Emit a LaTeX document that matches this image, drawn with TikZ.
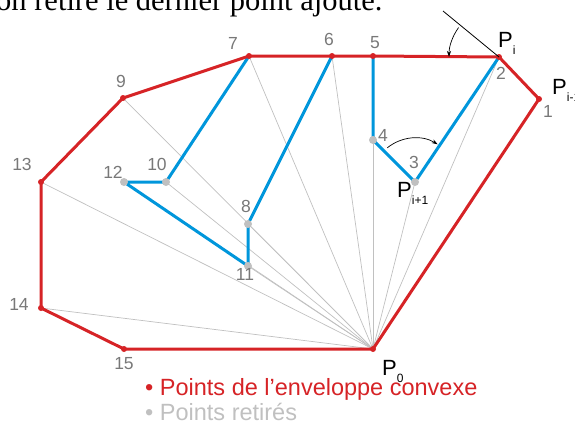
\documentclass[tikz,border=0pt]{standalone}
\usepackage{fontspec}
\setmainfont{Liberation Sans}
\newfontfamily\serifface{Liberation Serif}
\usetikzlibrary{positioning, arrows.meta, calc}

\definecolor{hullred}{RGB}{214,35,38}
\definecolor{stackblue}{RGB}{0,150,219}
\definecolor{raygray}{RGB}{192,192,192}
\definecolor{numgray}{RGB}{120,120,120}

\newcommand{\Plabel}[1]{P\raisebox{-7pt}{\fontsize{12}{12}\selectfont #1}}

\begin{document}
\begin{tikzpicture}[x=1pt, y=-1pt,
    hullpt/.style={circle, fill=hullred, inner sep=0pt, minimum size=6pt},
    droppt/.style={circle, fill=raygray, inner sep=0pt, minimum size=8pt},
    num/.style={text=numgray, font=\fontsize{17.5}{17.5}\selectfont, inner sep=0pt},
    plabel/.style={anchor=base west, inner sep=0pt, font=\fontsize{22}{22}\selectfont},
    legend/.style={anchor=base west, inner sep=0pt, font=\fontsize{23.5}{23.5}\selectfont},
    ray/.style={draw=raygray, line width=0.7pt},
    hull/.style={draw=hullred, line width=3pt, line join=round},
    stack/.style={draw=stackblue, line width=3pt, line join=round},
    turn/.style={draw=black, line width=0.7pt, -{Stealth[length=6pt, width=4pt]}}
]

\useasboundingbox (0,0) rectangle (575,424);
\clip (0,0) rectangle (575,424);

% Point set
\coordinate (p0) at (373,349);
\coordinate (p1) at (539,99);
\coordinate (p2) at (499,57);
\coordinate (p3) at (415,182);
\coordinate (p4) at (373,140);
\coordinate (p5) at (373,56);
\coordinate (p6) at (332,56);
\coordinate (p7) at (249,56);
\coordinate (p8) at (248,224);
\coordinate (p9) at (123,98);
\coordinate (p10) at (166,182);
\coordinate (p11) at (248,266);
\coordinate (p12) at (124,182);
\coordinate (p13) at (41,182);
\coordinate (p14) at (41,308);
\coordinate (p15) at (124,349);

% Caption line (cut at the top)
\node[anchor=base west, inner sep=0pt, font=\serifface\fontsize{30.5}{30.5}\selectfont] (caption) at (-4,10) {on retire le dernier point ajouté.};

% Rays from P0
\foreach \k in {2,...,14}
    \draw[ray] (p0) -- (p\k);

% Removed chains
\draw[stack] (p7) -- (p10) -- (p12) -- (p11) -- (p8) -- (p6);
\draw[stack] (p5) -- (p4) -- (p3) -- (p2);

% Convex hull
\draw[hull] (p0) -- (p1) -- (p2) -- (p5) -- (p6) -- (p7) -- (p9) -- (p13) -- (p14) -- (p15) -- cycle;

% Dots
\foreach \k in {0,1,2,5,6,7,9,13,14,15}
    \node[hullpt] (dot\k) at (p\k) {};
\foreach \k in {3,4,8,10,11,12}
    \node[droppt] (dot\k) at (p\k) {};

% Point numbers
\foreach \k/\x/\y in {1/548/111, 2/501/73, 3/414/162, 4/383/135, 5/375/43,
    6/329/39, 7/233/43, 8/246/206, 9/121/81, 10/157/164, 11/245/274,
    12/113/172, 13/22/164, 14/19/304, 15/124/364}
    \node[num] (n\k) at (\x,\y) {\k};

% P labels
\node[plabel] (pi) at (498,47) {\Plabel{i}};
\node[plabel] (pim) at (552,94) {\Plabel{i-1}};
\node[plabel] (pip) at (397,197) {\Plabel{i+1}};
\node[plabel] (pzero) at (382,375) {\Plabel{0}};

% Turn angles
\coordinate (tan) at (443,11);
\draw[line width=0.8pt] (tan) -- (p2);
\draw[turn] ($(p2)+(-144:50)$) arc[start angle=-144, end angle=-180, radius=50];
\draw[turn] ($(p3)+(-129:44)$) arc[start angle=-129, end angle=-59, radius=44];

% Legend
\node[legend, text=hullred] (leghull) at (145,395) {• Points de l’enveloppe convexe};
\node[legend, text=raygray] (legdrop) at (145,420) {• Points retirés};

\end{tikzpicture}
\end{document}
